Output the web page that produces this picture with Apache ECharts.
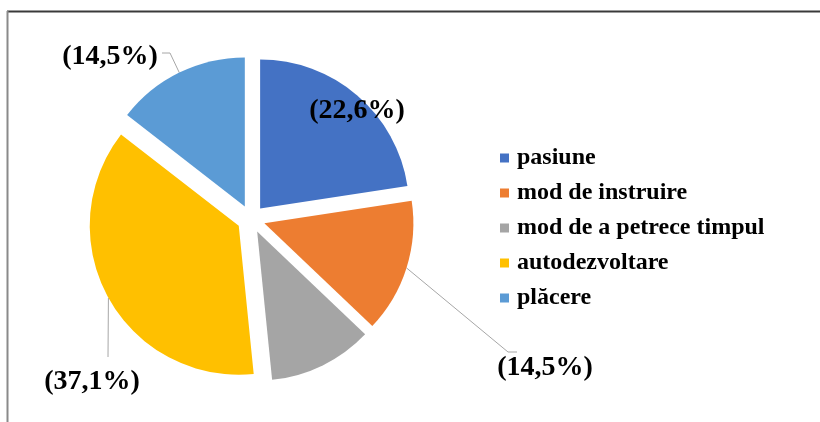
<!DOCTYPE html>
<html>
	<head>
		<meta charset="utf-8" />
		<title>Pie</title>
		<script src="https://cdn.jsdelivr.net/npm/echarts@6/dist/echarts.min.js"></script>
		<style>
			* {
				margin: 0;
				padding: 0;
			}
			#chart-container {
				width: 820px;
				height: 422px;
				background: #fff;
			}
		</style>
	</head>
	<body>
		<div id="chart-container"></div>
		<script>
			var categories = ["pasiune", "mod de instruire", "mod de a petrece timpul", "autodezvoltare", "plăcere"];
			var values = [22.6, 14.5, 11.3, 37.1, 14.5];
			var colors = ["#4472C4", "#ED7D31", "#A5A5A5", "#FFC000", "#5B9BD5"];
			var showLabel = [true, true, false, true, true];
			// where Excel dropped each label (text centre) and the bends of its leader line
			var labelSpots = [[357, 111], [545, 368], null, [92, 382], [110, 57]];
			var labelBends = [null, [[508, 352], [517, 352]], null, [[108, 357]], [[170, 53], [162, 53]]];

			var pieCenter = [251, 219];
			var pieRadius = 149;
			var explode = 14;
			var font = "'Liberation Serif', 'Times New Roman', serif";

			var dom = document.getElementById("chart-container");
			var myChart = echarts.init(dom, null, { renderer: "canvas" });

			var sliceData = [];
			var labelData = [];
			for (let i = 0; i < categories.length; i++) {
				sliceData.push({
					name: categories[i],
					value: values[i],
					selected: true,
					itemStyle: { color: colors[i] },
				});
				labelData.push({
					name: categories[i],
					value: values[i],
					label: { show: showLabel[i], position: i === 0 ? "inside" : "outside" },
					labelLine: { show: showLabel[i] && i !== 0 },
				});
			}

			var option = {
				animation: false,
				legend: {
					orient: "vertical",
					left: 495,
					top: 141,
					icon: "rect",
					itemWidth: 9,
					itemHeight: 9,
					itemGap: 11,
					selectedMode: false,
					data: categories,
					textStyle: {
						fontFamily: font,
						fontWeight: "bold",
						fontSize: 24,
						color: "#000",
						padding: [0, 0, 0, 3],
					},
				},
				graphic: [
					{ type: "line", shape: { x1: 7, y1: 11.5, x2: 820, y2: 11.5 }, style: { stroke: "#3a3a3a", lineWidth: 2 } },
					{ type: "line", shape: { x1: 7.5, y1: 11, x2: 7.5, y2: 422 }, style: { stroke: "#8a8a8a", lineWidth: 2 } },
				],
				series: [
					{
						// the exploded slices
						type: "pie",
						center: pieCenter,
						radius: pieRadius,
						startAngle: 90,
						clockwise: true,
						selectedMode: "multiple",
						selectedOffset: explode,
						data: sliceData,
						label: { show: false },
						labelLine: { show: false },
						emphasis: { disabled: true },
						silent: true,
					},
					{
						// same pie, see-through, only carries the percentage labels
						type: "pie",
						center: pieCenter,
						radius: pieRadius,
						startAngle: 90,
						clockwise: true,
						selectedMode: false,
						data: labelData,
						itemStyle: { color: "rgba(0,0,0,0)" },
						label: {
							fontFamily: font,
							fontWeight: "bold",
							fontSize: 28,
							color: "#000",
							overflow: "none",
							formatter: function (p) {
								return "(" + p.value.toFixed(1).replace(".", ",") + "%)";
							},
						},
						labelLine: {
							lineStyle: { color: "#a6a6a6", width: 1 },
						},
						labelLayout: function (p) {
							var s = labelSpots[p.dataIndex];
							if (!s) return {};
							var out = { x: s[0], y: s[1], align: "center", verticalAlign: "middle" };
							var bends = labelBends[p.dataIndex];
							if (bends && p.labelLinePoints) {
								// start on the edge of the pulled-out slice
								var p0 = p.labelLinePoints[0];
								var dx = p0[0] - pieCenter[0];
								var dy = p0[1] - pieCenter[1];
								var len = Math.sqrt(dx * dx + dy * dy);
								var start = [p0[0] + (dx / len) * explode, p0[1] + (dy / len) * explode];
								out.labelLinePoints = [start].concat(bends);
								if (out.labelLinePoints.length < 3) out.labelLinePoints.push(bends[bends.length - 1]);
							}
							return out;
						},
						emphasis: { disabled: true },
						silent: true,
					},
				],
			};

			myChart.setOption(option);
			window.addEventListener("resize", myChart.resize);
		</script>
	</body>
</html>
